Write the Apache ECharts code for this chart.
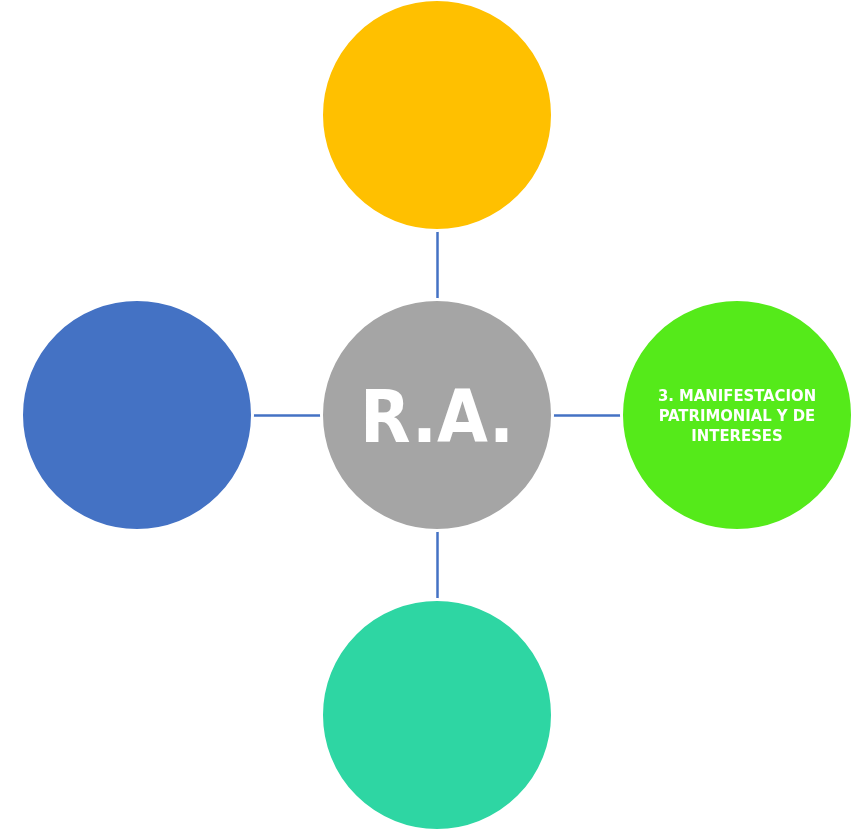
<!DOCTYPE html>
<html>
<head>
<meta charset="utf-8">
<script src="https://cdn.jsdelivr.net/npm/echarts@6/dist/echarts.min.js"></script>
<style>html,body{margin:0;padding:0;background:#fff}#c{width:858px;height:830px}</style>
</head>
<body>
<div id="c"></div>
<script>
const nodeNames = ['R.A.', 'top', 'right', 'bottom', 'left'];
const nodeLabels = ['R.A.', '', '3. MANIFESTACION\nPATRIMONIAL Y DE\nINTERESES', '', ''];
const nodeX = [0, 0, 1, 0, -1];
const nodeY = [0, 1, 0, -1, 0];
const nodeColors = ['#A5A5A5', '#FFC000', '#55EA1A', '#2ED6A3', '#4472C4'];
const linkSources = [0, 0, 0, 0];
const linkTargets = [1, 2, 3, 4];

const chart = echarts.init(document.getElementById('c'));
const data = nodeNames.map((n, i) => ({
  name: n,
  value: [nodeX[i], nodeY[i]],
  itemStyle: { color: nodeColors[i], borderColor: '#ffffff', borderWidth: 3 },
  label: i === 0
    ? { show: true, formatter: nodeLabels[i], color: '#fff', fontFamily: 'DejaVu Sans Condensed', fontWeight: 'bold', fontSize: 73, offset: [0, 8] }
    : { show: nodeLabels[i] !== '', formatter: nodeLabels[i], color: '#fff', fontFamily: 'DejaVu Sans Condensed', fontWeight: 'bold', fontSize: 16.5, lineHeight: 20, align: 'center', offset: [0, 2] }
}));
const links = linkSources.map((s, i) => ({ source: s, target: linkTargets[i] }));

chart.setOption({
  animation: false,
  grid: { left: 137, top: 115, width: 600, height: 600 },
  xAxis: { type: 'value', min: -1, max: 1, show: false },
  yAxis: { type: 'value', min: -1, max: 1, show: false },
  series: [{
    type: 'graph',
    coordinateSystem: 'cartesian2d',
    symbol: 'circle',
    symbolSize: 231,
    data: data,
    links: links,
    lineStyle: { color: '#4472C4', width: 2.5, opacity: 1 },
    label: { position: 'inside' },
    emphasis: { disabled: true }
  }]
});
</script>
</body>
</html>
